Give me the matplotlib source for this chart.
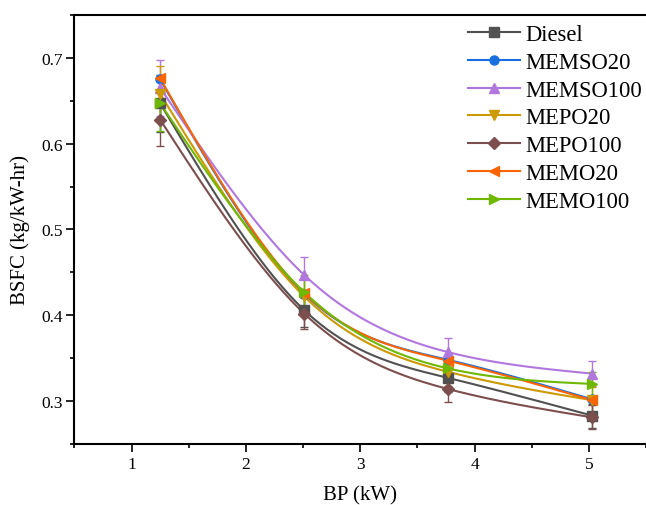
import numpy as np
import matplotlib
matplotlib.use("Agg")
import matplotlib.pyplot as plt
from matplotlib.ticker import MultipleLocator

plt.rcParams['font.family'] = ['Liberation Serif', 'DejaVu Serif']
plt.rcParams['mathtext.fontset'] = 'stix'

# data
bp = [1.25, 2.51, 3.77, 5.03]

names = ['Diesel', 'MEMSO20', 'MEMSO100', 'MEPO20', 'MEPO100', 'MEMO20', 'MEMO100']
diesel = [0.647, 0.406, 0.327, 0.283]
memso20 = [0.675, 0.425, 0.348, 0.302]
memso100 = [0.665, 0.447, 0.357, 0.332]
mepo20 = [0.658, 0.422, 0.334, 0.301]
mepo100 = [0.628, 0.402, 0.314, 0.281]
memo20 = [0.676, 0.426, 0.347, 0.301]
memo100 = [0.647, 0.427, 0.338, 0.320]

err_diesel = [0.033, 0.020, 0.016, 0.014]
err_memso100 = [0.033, 0.021, 0.017, 0.015]
err_mepo20 = [0.032, 0.020, 0.016, 0.015]
err_mepo100 = [0.031, 0.018, 0.015, 0.014]
err_memo100 = [0.032, 0.020, 0.016, 0.014]

series = [diesel, memso20, memso100, mepo20, mepo100, memo20, memo100]
errors = [err_diesel, None, err_memso100, err_mepo20, err_mepo100, None, err_memo100]
colors = ['#515151', '#1A6FDF', '#B177DE', '#CC9900', '#7D4E4E', '#FB6501', '#6FB802']
markers = ['s', 'o', '^', 'v', 'D', '<', '>']
msizes = [6.5, 6.5, 7.5, 7.5, 6, 7.5, 7.5]


def spline(x, y, n=200):
    # natural cubic spline, only used to draw the smooth connecting line
    x = np.asarray(x, float)
    y = np.asarray(y, float)
    k = len(x)
    h = np.diff(x)
    A = np.zeros((k, k))
    b = np.zeros(k)
    A[0, 0] = A[-1, -1] = 1
    for i in range(1, k - 1):
        A[i, i - 1] = h[i - 1]
        A[i, i] = 2 * (h[i - 1] + h[i])
        A[i, i + 1] = h[i]
        b[i] = 3 * ((y[i + 1] - y[i]) / h[i] - (y[i] - y[i - 1]) / h[i - 1])
    c = np.linalg.solve(A, b)
    xs = np.linspace(x[0], x[-1], n)
    idx = np.clip(np.searchsorted(x, xs) - 1, 0, k - 2)
    dx = xs - x[idx]
    bb = (y[1:] - y[:-1]) / h - h * (2 * c[:-1] + c[1:]) / 3
    dd = (c[1:] - c[:-1]) / (3 * h)
    ys = y[idx] + bb[idx] * dx + c[idx] * dx ** 2 + dd[idx] * dx ** 3
    return xs, ys


fig = plt.figure(figsize=(6.46, 5.06), dpi=100)
ax = fig.add_axes([0.1152, 0.1206, 0.8848, 0.8478])

for name, vals, err, col, mk, ms in zip(names, series, errors, colors, markers, msizes):
    xs, ys = spline(bp, vals)
    ax.plot(xs, ys, color=col, lw=1.5, zorder=2)
    if err is not None:
        ax.errorbar(bp, vals, yerr=err, fmt='none', ecolor=col, elinewidth=1.0,
                    capsize=3, capthick=1.0, zorder=3)
    ax.plot(bp, vals, linestyle='none', marker=mk, ms=ms, color=col, zorder=4)
    ax.plot([], [], color=col, lw=1.5, marker=mk, ms=ms, label=name)

ax.set_xlim(0.5, 5.5)
ax.set_ylim(0.25, 0.75)
ax.xaxis.set_major_locator(MultipleLocator(1))
ax.xaxis.set_minor_locator(MultipleLocator(0.5))
ax.yaxis.set_major_locator(MultipleLocator(0.1))
ax.yaxis.set_minor_locator(MultipleLocator(0.05))
ax.set_yticks([0.3, 0.4, 0.5, 0.6, 0.7])
ax.tick_params(which='major', direction='out', length=5.5, width=1.2, labelsize=12.5, pad=3)
ax.tick_params(which='minor', direction='out', length=3, width=1.2)
ax.tick_params(top=False, right=False)
for s in ['left', 'bottom', 'top']:
    ax.spines[s].set_linewidth(1.5)
ax.spines['right'].set_visible(False)

ax.set_xlabel('BP (kW)', fontsize=15, labelpad=10)
ax.set_ylabel('BSFC (kg/kW-hr)', fontsize=15, labelpad=8)

ax.legend(loc='upper left', frameon=False, fontsize=16.3, handlelength=2.3,
          handletextpad=0.25, labelspacing=0.3, borderaxespad=0,
          bbox_to_anchor=(0.673, 1.0))

fig.savefig('out.png', dpi=100)
